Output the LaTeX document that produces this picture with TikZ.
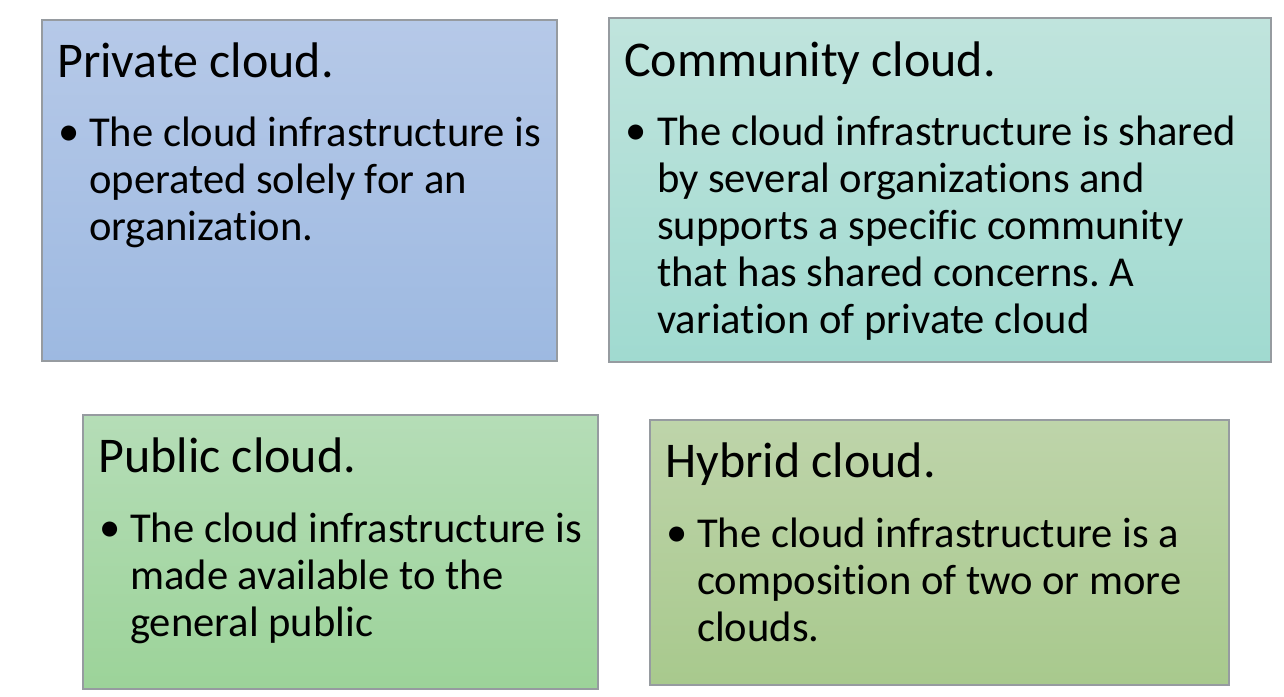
\documentclass[tikz,border=0pt]{standalone}
\usepackage{fontspec}
\setmainfont{Carlito}[RawFeature={-liga;-clig;-dlig;-calt}]
\frenchspacing
\definecolor{privT}{RGB}{182,201,232}
\definecolor{privB}{RGB}{157,185,225}
\definecolor{commT}{RGB}{192,228,221}
\definecolor{commB}{RGB}{160,218,208}
\definecolor{pubT}{RGB}{181,221,183}
\definecolor{pubB}{RGB}{156,211,153}
\definecolor{hybT}{RGB}{190,212,170}
\definecolor{hybB}{RGB}{168,201,141}
\definecolor{edge}{RGB}{150,155,160}
\newcommand{\mylines}[1]{\vtop{\baselineskip=47pt\lineskiplimit=-100pt\halign{##\hfil\cr#1\crcr}}}
\tikzset{
  cbox/.style={draw=edge, line width=1.5pt},
  ttl/.style={anchor=base west, inner sep=0pt, font=\fontsize{50}{60}\selectfont},
  body/.style={anchor=base west, inner sep=0pt, font=\fontsize{42.6}{47}\selectfont},
  dot/.style={anchor=base west, inner sep=0pt, font=\fontsize{42.6}{47}\selectfont}
}
\begin{document}
\begin{tikzpicture}[x=1pt,y=-1pt]
\useasboundingbox (0,0) rectangle (1284,696);
\path[cbox, top color=privT, bottom color=privB] (42,20) rectangle (557,361);
\path[cbox, top color=commT, bottom color=commB] (609,18) rectangle (1271,362);
\path[cbox, top color=pubT, bottom color=pubB] (83,415) rectangle (598,689);
\path[cbox, top color=hybT, bottom color=hybB] (650,420) rectangle (1229,685);

\node[ttl] (t1) at (57,77) {Private cloud.};
\node[dot] (d1) at (58,145) {•};
\node[body] (b1) at (89,146) {\mylines{The cloud infrastructure is\cr operated solely for an\cr organization.}};

\node[ttl] (t2) at (624,76) {Community cloud.};
\node[dot] (d2) at (625,144) {•};
\node[body] (b2) at (657,145) {\mylines{The cloud infrastructure is shared\cr by several organizations and\cr supports a specific community\cr that has shared concerns. A\cr variation of private cloud}};

\node[ttl] (t3) at (98,472) {Public cloud.};
\node[dot] (d3) at (99,541) {•};
\node[body] (b3) at (130,542) {\mylines{The cloud infrastructure is\cr made available to the\cr general public}};

\node[ttl] (t4) at (665,477) {Hybrid cloud.};
\node[dot] (d4) at (666,546) {•};
\node[body] (b4) at (697,547) {\mylines{The cloud infrastructure is a\cr composition of two or more\cr clouds.}};
\end{tikzpicture}
\end{document}
